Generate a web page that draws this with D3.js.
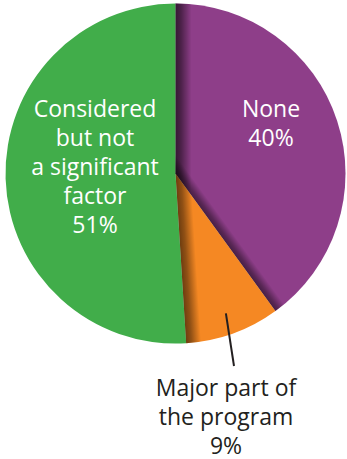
<!DOCTYPE html>
<html>
<head>
<meta charset="utf-8">
<script src="https://cdn.jsdelivr.net/npm/d3@7/dist/d3.min.js"></script>
<style>
  html, body { margin: 0; padding: 0; background: #fff; }
  svg { display: block; }
</style>
</head>
<body>
<svg id="chart" width="347" height="459"></svg>
<script>
// Share of responses, drawn clockwise from 12 o'clock
const categories = ["None", "Major part of the program", "Considered but not a significant factor"];
const values = [40, 9, 51];
const labelLines = [
  ["None", "40%"],
  ["Major part of", "the program", "9%"],
  ["Considered", "but not", "a significant", "factor", "51%"]
];
const colors = ["#8e3e89", "#f58823", "#41ad4a"];

const W = 347, H = 459;
const cx = 175.5, cy = 173.5, R = 170;

const svg = d3.select("#chart");
const defs = svg.append("defs");
const g = svg.append("g").attr("transform", `translate(${cx},${cy})`);

const pie = d3.pie().sort(null).value(d => d)(values);
const arc = d3.arc().innerRadius(0).outerRadius(R);

// slices
g.selectAll("path.slice")
  .data(pie)
  .join("path")
  .attr("class", "slice")
  .attr("d", arc)
  .attr("fill", (d, i) => colors[i]);

// soft shading along selected slice edges
// [slice index, which edge, width, max opacity]
const shades = [
  [0, "start", 16, 0.62],
  [0, "end", 11, 0.5],
  [1, "end", 15, 0.55]
];
shades.forEach(([i, edge, w, op], k) => {
  const d = pie[i];
  const a = edge === "start" ? d.startAngle : d.endAngle;
  const s = edge === "start" ? 1 : -1;
  const nx = s * Math.cos(a), ny = s * Math.sin(a);
  const id = "shade" + k;
  const grad = defs.append("linearGradient")
    .attr("id", id)
    .attr("gradientUnits", "userSpaceOnUse")
    .attr("x1", 0).attr("y1", 0)
    .attr("x2", nx * w).attr("y2", ny * w);
  grad.append("stop").attr("offset", 0).attr("stop-color", "#000").attr("stop-opacity", op);
  grad.append("stop").attr("offset", 0.35).attr("stop-color", "#000").attr("stop-opacity", op * 0.75);
  grad.append("stop").attr("offset", 1).attr("stop-color", "#000").attr("stop-opacity", 0);
  g.append("path").attr("d", arc(d)).attr("fill", `url(#${id})`);
});

const font = "'Open Sans', 'Noto Sans', sans-serif";

function block(lines, x, yFirst, fill, lh) {
  const t = svg.append("text")
    .attr("text-anchor", "middle")
    .attr("font-family", font)
    .attr("font-size", 23)
    .attr("fill", fill);
  lines.forEach((l, j) => {
    t.append("tspan").attr("x", x).attr("y", yFirst + j * lh).text(l);
  });
}

// in-slice labels
block(labelLines[0], 271, 117, "#fff", 29);
block(labelLines[2], 95, 117, "#fff", 29);

// leader line and outside label for the small slice
const mid = (pie[1].startAngle + pie[1].endAngle) / 2;
const r0 = R * 0.875;
svg.append("line")
  .attr("x1", cx + Math.sin(mid) * r0)
  .attr("y1", cy - Math.cos(mid) * r0)
  .attr("x2", 234)
  .attr("y2", 366)
  .attr("stroke", "#231f20")
  .attr("stroke-width", 2);
block(labelLines[1], 226, 395.5, "#231f20", 29);
</script>
</body>
</html>
